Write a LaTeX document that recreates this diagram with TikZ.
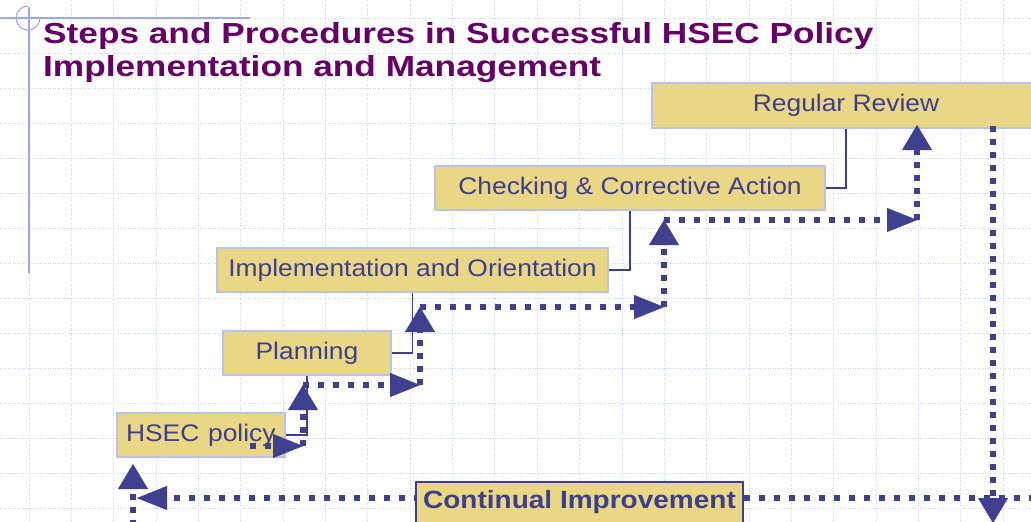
\documentclass[tikz,border=0pt]{standalone}
\usepackage{fontspec}
\setmainfont{Liberation Sans}
\usetikzlibrary{arrows.meta}
\definecolor{boxfill}{HTML}{EAD786}
\definecolor{boxline}{HTML}{B9C2EC}
\definecolor{ink}{HTML}{3D3F8C}
\definecolor{arrowc}{HTML}{3F4190}
\definecolor{gridc}{HTML}{C8D2F2}
\definecolor{deco}{HTML}{98A8F2}
\definecolor{titlec}{HTML}{660066}
\newcommand{\wtxt}[1]{\scalebox{1.1}[1]{#1}}
\newcommand{\wtitle}[1]{\scalebox{1.215}[1]{#1}}
\begin{document}
\begin{tikzpicture}[x=1pt,y=-1pt,
  gridline/.style={gridc, line width=0.8pt, dash pattern=on 1pt off 1.5pt},
  decoline/.style={deco, line width=1.5pt},
  stepbox/.style={draw=boxline, fill=boxfill, line width=2pt, inner sep=0pt,
    minimum height=44pt, text=ink, font=\fontsize{24}{28}\selectfont},
  cibox/.style={draw=ink, fill=boxfill, line width=1.5pt, inner xsep=0pt, inner ysep=0pt,
    text height=27pt, text depth=23pt, text=ink, font=\bfseries\fontsize{25}{29}\selectfont},
  titletext/.style={anchor=base west, inner sep=0pt, text=titlec, font=\bfseries\fontsize{29}{33}\selectfont},
  link/.style={draw=ink, line width=1.5pt},
  hflow/.style={arrowc, line width=6pt, dash pattern=on 6pt off 9pt,
    -{Triangle[length=30pt,width=24pt,line width=0.1pt]}},
  vflow/.style={arrowc, line width=6pt, dash pattern=on 6pt off 7pt,
    -{Triangle[length=25pt,width=30pt,line width=0.1pt]}}
]
\useasboundingbox (0,0) rectangle (1031,522);
\clip (0,0) rectangle (1031,522);
\fill[white] (0,0) rectangle (1031,522);

% grid
\foreach \i in {0,...,23} \draw[gridline] ({29+42.35*\i},0) -- ++(0,522);
\foreach \j in {0,...,14} \draw[gridline] (0,{18+35*\j}) -- ++(1031,0);

% top-left decoration
\draw[decoline] (0,18) -- (250,18);
\draw[decoline] (29,7) -- (29,273);
\draw[deco, line width=1pt] (40,18) arc[start angle=0, end angle=270, radius=12];

% title
\node[titletext] (title1) at (43,43) {\wtitle{Steps and Procedures in Successful HSEC Policy}};
\node[titletext] (title2) at (43,76) {\wtitle{Implementation and Management}};

% step boxes
\node[stepbox, minimum width=168pt, text width=150pt, align=left] (hsec) at (201,435) {\wtxt{HSEC policy}};
\node[stepbox, minimum width=168pt] (plan) at (307,353) {\wtxt{Planning}};
\node[stepbox, minimum width=391pt] (impl) at (412.5,270) {\wtxt{Implementation and Orientation}};
\node[stepbox, minimum width=390pt] (check) at (630,188) {\wtxt{Checking \& Corrective Action}};
\node[stepbox, minimum width=388pt, minimum height=45pt] (review) at (846,105.5) {\wtxt{Regular Review}};

% thin links
\draw[link] (hsec.east) -| (plan.south);
\draw[link] (plan.east) -| (impl.south);
\draw[link] (impl.east) -| (check.south);
\draw[link] (check.east) -| (review.south);

% flow coordinates
\coordinate (a1s) at (250,446);
\coordinate (a1c) at (303,446);
\coordinate (a1e) at (303,385);
\coordinate (a2c) at (420,385);
\coordinate (a2e) at (420,307);
\coordinate (a3c) at (664,307);
\coordinate (a3e) at (664,220);
\coordinate (a4c) at (917,220);
\coordinate (a4e) at (917,125);
\coordinate (a5s) at (993,126);
\coordinate (a5e) at (993,523);
\coordinate (a6s) at (1035,498);
\coordinate (a6e) at (137,498);
\coordinate (a7s) at (133,526);
\coordinate (a7e) at (133,464);

% staircase arrows
\draw[hflow] (a1s) -- (a1c);
\draw[vflow] (a1c) -- (a1e);
\draw[hflow] (a1e) -- (a2c);
\draw[vflow] (a2c) -- (a2e);
\draw[hflow] (a2e) -- (a3c);
\draw[vflow] (a3c) -- (a3e);
\draw[hflow] (a3e) -- (a4c);
\draw[vflow] (a4c) -- (a4e);

% improvement loop
\draw[vflow] (a5s) -- (a5e);
\draw[hflow] (a6s) -- (a6e);
\draw[vflow] (a7s) -- (a7e);

% continual improvement box
\node[cibox, minimum width=327pt, anchor=north] (ci) at (579.5,481) {\scalebox{1.12}[1]{Continual Improvement}};
\end{tikzpicture}
\end{document}
